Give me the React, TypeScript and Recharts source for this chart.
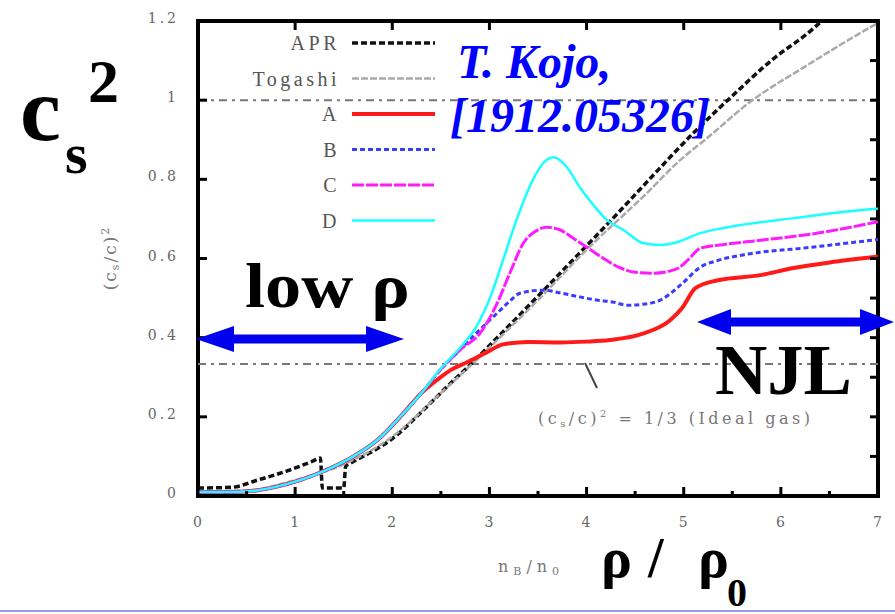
import { LineChart, Line, XAxis, YAxis, ReferenceLine, ReferenceArea, Legend } from "recharts";

// density n_B/n_0 vs squared sound velocity
const APR: [number, number][] = [
  [0, 0.02], [0.35, 0.022], [0.61, 0.04], [0.95, 0.066], [1.18, 0.088], [1.26, 0.096],
  [1.28, 0.02], [1.5, 0.02], [1.52, 0.075], [1.57, 0.083], [1.77, 0.109], [1.98, 0.141],
  [2.32, 0.217], [2.6, 0.285], [2.83, 0.338], [3.0, 0.38], [3.5, 0.505], [4.0, 0.632],
  [4.35, 0.722], [4.62, 0.793], [5.1, 0.917], [5.51, 1.013], [5.9, 1.1], [6.33, 1.18], [6.42, 1.2],
];
const TOGASHI: [number, number][] = [
  [0, 0.012], [0.5, 0.014], [1.0, 0.04], [1.5, 0.08], [2.0, 0.15], [2.5, 0.26], [3.0, 0.375],
  [3.5, 0.495], [4.0, 0.622], [4.62, 0.765], [4.96, 0.848], [5.24, 0.904], [5.68, 0.995],
  [6.27, 1.088], [6.92, 1.184], [7.0, 1.195],
];
const LOW_DENSITY: [number, number][] = [
  [0, 0.01], [0.3, 0.01], [0.6, 0.014], [0.8, 0.023], [1.05, 0.04], [1.36, 0.07],
  [1.6, 0.1], [1.85, 0.142], [2.1, 0.205], [2.3, 0.26],
];
const MODEL_A: [number, number][] = [
  [2.46, 0.293], [2.6, 0.318], [2.77, 0.338], [2.98, 0.364], [3.14, 0.383], [3.4, 0.389],
  [3.73, 0.388], [4.0, 0.39], [4.24, 0.394], [4.58, 0.41], [4.86, 0.444], [4.99, 0.477],
  [5.12, 0.525], [5.35, 0.545], [5.79, 0.558], [6.13, 0.576], [6.5, 0.59], [7.0, 0.605],
];
const MODEL_B: [number, number][] = [
  [2.5, 0.32], [2.7, 0.37], [2.9, 0.42], [3.08, 0.462], [3.2, 0.49], [3.32, 0.513], [3.55, 0.52],
  [3.75, 0.512], [3.93, 0.503], [4.1, 0.495], [4.27, 0.49], [4.42, 0.482], [4.6, 0.485],
  [4.76, 0.495], [4.88, 0.515], [4.99, 0.538], [5.17, 0.578], [5.35, 0.595], [5.61, 0.609],
  [6.3, 0.628], [7.0, 0.648],
];
const MODEL_C: [number, number][] = [
  [2.5, 0.32], [2.7, 0.37], [2.9, 0.41], [3.08, 0.487], [3.21, 0.563], [3.35, 0.639], [3.47, 0.668],
  [3.59, 0.679], [3.73, 0.672], [3.87, 0.65], [4.0, 0.629], [4.15, 0.604], [4.35, 0.576],
  [4.5, 0.565], [4.69, 0.563], [4.85, 0.568], [4.96, 0.578], [5.05, 0.598], [5.17, 0.626],
  [5.4, 0.635], [5.79, 0.646], [6.4, 0.665], [7.0, 0.693],
];
const MODEL_D: [number, number][] = [
  [2.5, 0.322], [2.7, 0.375], [2.87, 0.43], [3.01, 0.503], [3.14, 0.596], [3.29, 0.705],
  [3.45, 0.8], [3.55, 0.84], [3.66, 0.856], [3.8, 0.83], [3.93, 0.78], [4.07, 0.735],
  [4.21, 0.697], [4.38, 0.672], [4.58, 0.639], [4.76, 0.634], [4.93, 0.641], [5.17, 0.664],
  [5.45, 0.679], [6.13, 0.702], [6.95, 0.725], [7.0, 0.726],
];

const X_TICKS = [0, 1, 2, 3, 4, 5, 6, 7];
const X_MINOR_TICKS = [0.5, 1.5, 2.5, 3.5, 4.5, 5.5, 6.5];
const Y_TICKS = [0, 0.2, 0.4, 0.6, 0.8, 1, 1.2];
const Y_RIGHT_TICKS = [0.1, 0.2, 0.3, 0.4, 0.5, 0.6, 0.7, 0.8, 0.9, 1, 1.1];

const toRows = (pts: [number, number][]) => pts.map(([n, cs2]) => ({ n, cs2 }));

const SERIES = [
  { name: "APR", data: toRows(APR), color: "#111111", width: 3.5, dash: "6 3" },
  { name: "Togashi", data: toRows(TOGASHI), color: "#aaaaaa", width: 2.5, dash: "7 2" },
  { name: "A", data: toRows([...LOW_DENSITY, ...MODEL_A]), color: "#ff1a1a", width: 4, dash: undefined },
  { name: "B", data: toRows([...LOW_DENSITY, ...MODEL_B]), color: "#3c3cff", width: 3, dash: "5 3" },
  { name: "C", data: toRows([...LOW_DENSITY, ...MODEL_C]), color: "#ff1aff", width: 3, dash: "12 2" },
  { name: "D", data: toRows([...LOW_DENSITY, ...MODEL_D]), color: "#1affff", width: 2.5, dash: undefined },
];

// plot frame in page pixels (chart margins below produce exactly this box)
const PLOT = { left: 198, top: 21, right: 878, bottom: 496 };
const X_MAX = 7;
const Y_MAX = 1.2;
const px = (v: number) => PLOT.left + (v / X_MAX) * (PLOT.right - PLOT.left);
const py = (v: number) => PLOT.bottom - (v / Y_MAX) * (PLOT.bottom - PLOT.top);

const TICK_FONT = { fontFamily: "DejaVu Serif", fontSize: 14, fill: "#666", letterSpacing: 3 };
const fmt = (v: number) => `${+v.toFixed(1)}`;

function BottomTick({ x, y, payload }: any) {
  return (
    <text x={x + 1} y={y + 31} textAnchor="middle" {...TICK_FONT}>
      {fmt(payload.value)}
    </text>
  );
}

function LeftTick({ x, y, payload }: any) {
  return (
    <text x={x - 19} y={y + 2} textAnchor="end" {...TICK_FONT}>
      {fmt(payload.value)}
    </text>
  );
}

function LegendBox() {
  return (
    <svg width={300} height={230}>
      {SERIES.map((s, i) => {
        const cy = 43 + i * 35.5;
        return (
          <g key={s.name}>
            <text
              x={140}
              y={cy + 7}
              textAnchor="end"
              fontFamily="Liberation Serif"
              fontSize={20}
              letterSpacing={3.5}
              fill="#555"
            >
              {s.name}
            </text>
            <line
              x1={152}
              x2={235}
              y1={cy}
              y2={cy}
              stroke={s.color}
              strokeWidth={s.width}
              strokeDasharray={s.dash}
            />
          </g>
        );
      })}
    </svg>
  );
}

function FrameTicks() {
  const t = { stroke: "#000", strokeWidth: 3 };
  return (
    <g>
      {X_TICKS.map((v) => (
        <g key={`x${v}`}>
          <line x1={px(v)} x2={px(v)} y1={PLOT.bottom} y2={PLOT.bottom - 9} {...t} />
          <line x1={px(v)} x2={px(v)} y1={PLOT.top} y2={PLOT.top + 9} {...t} />
        </g>
      ))}
      {X_MINOR_TICKS.map((v) => (
        <line key={`m${v}`} x1={px(v)} x2={px(v)} y1={PLOT.bottom} y2={PLOT.bottom - 5} {...t} />
      ))}
      {Y_TICKS.map((v) => (
        <line key={`l${v}`} x1={PLOT.left} x2={PLOT.left + 9} y1={py(v)} y2={py(v)} {...t} />
      ))}
      {Y_RIGHT_TICKS.map((v) => (
        <line key={`r${v}`} x1={PLOT.right} x2={PLOT.right - 8} y1={py(v)} y2={py(v)} {...t} />
      ))}
    </g>
  );
}

function Annotations() {
  const bold = { fontFamily: "Liberation Serif", fontWeight: 700, fill: "#000" };
  const blue = { fontFamily: "Liberation Serif", fontWeight: 700, fontStyle: "italic", fill: "#0000ff" };
  const gray = { fontFamily: "DejaVu Serif", fill: "#777" };
  return (
    <svg
      width={895}
      height={614}
      style={{ position: "absolute", left: 0, top: 0, pointerEvents: "none" }}
    >
      <FrameTicks />

      <text x={20} y={140} fontSize={92} {...bold}>c</text>
      <text x={65} y={173} fontSize={58} {...bold}>s</text>
      <text x={88} y={102} fontSize={62} {...bold}>2</text>

      <text x={457} y={78} fontSize={48} {...blue}>T. Kojo,</text>
      <text x={450} y={132} fontSize={48} {...blue}>[1912.05326]</text>

      <text x={245} y={307} fontSize={64} textLength={165} lengthAdjust="spacingAndGlyphs" {...bold}>
        low ρ
      </text>
      <text x={715} y={394} fontSize={72} textLength={137} lengthAdjust="spacingAndGlyphs" {...bold}>
        NJL
      </text>

      {/* low density arrow */}
      <rect x={225} y={334.5} width={150} height={9} fill="#0000ee" />
      <polygon points="196,339 234,326 234,352" fill="#0000ee" />
      <polygon points="404,339 366,326 366,352" fill="#0000ee" />
      {/* NJL arrow */}
      <rect x={725} y={317.5} width={140} height={9} fill="#0000ee" />
      <polygon points="697,322 731,309 731,335" fill="#0000ee" />
      <polygon points="894,322 860,309 860,335" fill="#0000ee" />

      <line x1={585} y1={363} x2={597} y2={388} stroke="#444" strokeWidth={2} />
      <text x={538} y={424} fontSize={16} letterSpacing={3.5} {...gray}>
        (c<tspan fontSize={10} dy={3}>s</tspan>
        <tspan dy={-3}>/c)</tspan>
        <tspan fontSize={10} dy={-7}>2</tspan>
        <tspan dy={7}> = 1/3 (Ideal gas)</tspan>
      </text>

      <text
        transform="translate(116,258) rotate(-90)"
        textAnchor="middle"
        fontSize={17}
        letterSpacing={2}
        {...gray}
      >
        (c<tspan fontSize={11} dy={3}>s</tspan>
        <tspan dy={-3}>/c)</tspan>
        <tspan fontSize={11} dy={-7}>2</tspan>
      </text>

      <text x={498} y={572} fontSize={16} letterSpacing={5} {...gray}>
        n<tspan fontSize={11} dy={3}>B</tspan>
        <tspan dy={-3}>/n</tspan>
        <tspan fontSize={11} dy={3}>0</tspan>
      </text>
      <text x={601} y={577} fontSize={58} {...bold}>ρ</text>
      <text x={648} y={577} fontSize={56} {...bold}>/</text>
      <text x={698} y={577} fontSize={58} {...bold}>ρ</text>
      <text x={727} y={606} fontSize={40} {...bold}>0</text>

      <line x1={0} x2={895} y1={611} y2={611} stroke="#9a9aee" strokeWidth={2} />
    </svg>
  );
}

export default function App() {
  return (
    <div style={{ position: "absolute", left: 0, top: 0, width: 895, height: 614, background: "#fff" }}>
      <LineChart
        width={895}
        height={614}
        margin={{ top: PLOT.top, right: 895 - PLOT.right, bottom: 614 - PLOT.bottom - 30, left: PLOT.left - 60 }}
      >
        <XAxis
          dataKey="n"
          type="number"
          domain={[0, X_MAX]}
          ticks={X_TICKS}
          interval={0}
          height={30}
          tickSize={0}
          tickMargin={0}
          tick={<BottomTick />}
          axisLine={false}
          tickLine={false}
        />
        <YAxis
          type="number"
          domain={[0, Y_MAX]}
          ticks={Y_TICKS}
          interval={0}
          width={60}
          tickSize={0}
          tickMargin={0}
          tick={<LeftTick />}
          axisLine={false}
          tickLine={false}
        />
        <ReferenceArea
          x1={0}
          x2={X_MAX}
          y1={0}
          y2={Y_MAX}
          fill="none"
          stroke="#000"
          strokeWidth={4}
          ifOverflow="visible"
        />
        <ReferenceLine y={1} stroke="#777" strokeWidth={2} strokeDasharray="8 5 3 5" />
        <ReferenceLine y={1 / 3} stroke="#777" strokeWidth={2} strokeDasharray="8 5 3 5" />
        {SERIES.map((s) => (
          <Line
            key={s.name}
            name={s.name}
            data={s.data}
            dataKey="cs2"
            type="monotone"
            stroke={s.color}
            strokeWidth={s.width}
            strokeDasharray={s.dash}
            dot={false}
            isAnimationActive={false}
          />
        ))}
        <Legend
          layout="horizontal"
          verticalAlign="middle"
          align="center"
          content={() => <LegendBox />}
          wrapperStyle={{ position: "absolute", left: 200, top: 0, width: 300, height: 230 }}
        />
      </LineChart>
      <Annotations />
    </div>
  );
}
